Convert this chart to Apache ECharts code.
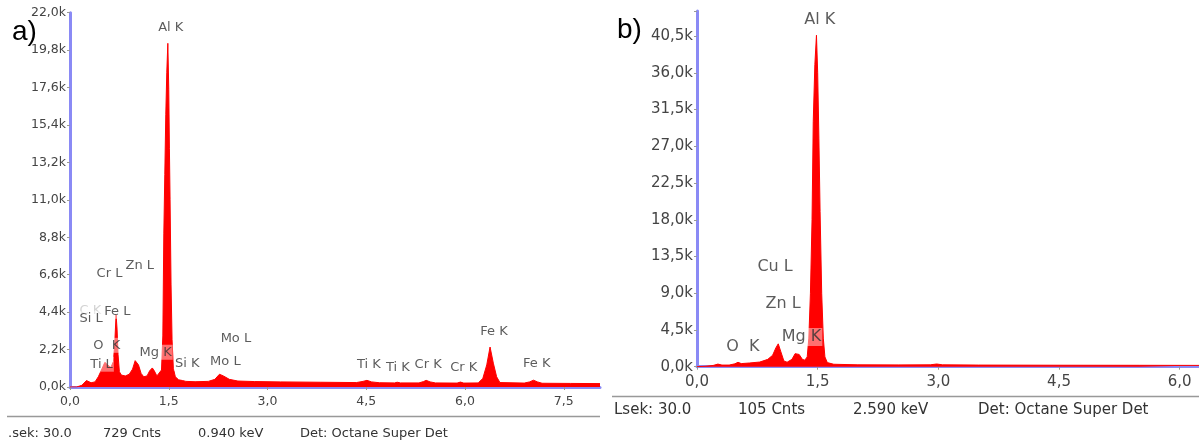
<!DOCTYPE html>
<html>
<head>
<meta charset="utf-8">
<script src="https://cdn.jsdelivr.net/npm/echarts@6/dist/echarts.min.js"></script>
<style>
  html, body { margin: 0; padding: 0; background: #fff; }
  #chart { width: 1199px; height: 445px; }
</style>
</head>
<body>
<div id="chart"></div>
<script>
// spectrum a) : energy (keV) and counts
var leftEnergy = [0, 0.1, 0.18, 0.25, 0.28, 0.32, 0.38, 0.43, 0.46, 0.5, 0.53, 0.57, 0.62, 0.66, 0.68, 0.7, 0.715, 0.73, 0.75, 0.78,
  0.84, 0.9, 0.95, 0.99, 1.01, 1.04, 1.08, 1.12, 1.17, 1.21, 1.25, 1.28, 1.32, 1.35,
  1.39, 1.41, 1.425, 1.44, 1.455, 1.47, 1.486, 1.5, 1.51, 1.52, 1.535, 1.55, 1.57, 1.6,
  1.65, 1.71, 1.76, 1.9, 2.1, 2.2, 2.27, 2.33, 2.42, 2.55, 2.8, 3.2, 3.8, 4.35, 4.45, 4.51, 4.58, 4.7,
  4.93, 4.97, 5.02, 5.3, 5.37, 5.41, 5.47, 5.55, 5.88, 5.93, 5.98, 6.2, 6.27, 6.33, 6.38, 6.43, 6.48, 6.53,
  6.9, 6.98, 7.04, 7.1, 7.17, 7.6, 8.05];
var leftCounts = [0, 0, 100, 380, 450, 250, 300, 600, 850, 1200, 1450, 1300, 1150, 1500, 2600, 4250, 3400, 1900, 900, 700,
  650, 750, 1050, 1550, 1630, 1300, 800, 600, 650, 950, 1120, 950, 650, 600,
  1000, 3000, 9000, 12500, 16000, 18500, 20200, 17500, 14000, 11000, 6000, 2800, 1100, 600,
  420, 380, 330, 310, 330, 450, 750, 650, 450, 350, 320, 300, 280, 260, 330, 390, 300, 250,
  240, 280, 240, 240, 320, 390, 300, 240, 230, 290, 230, 240, 500, 1300, 2350, 1400, 600, 260,
  230, 300, 400, 300, 220, 210, 200];

// spectrum b)
var rightEnergy = [0, 0.1, 0.2, 0.26, 0.31, 0.4, 0.47, 0.51, 0.55, 0.65, 0.78, 0.88, 0.94, 0.98, 1.01, 1.04, 1.08, 1.12,
  1.18, 1.22, 1.24, 1.27, 1.31, 1.34, 1.37, 1.39, 1.41, 1.43, 1.445, 1.465, 1.485, 1.5, 1.515, 1.53, 1.55, 1.57,
  1.59, 1.62, 1.7, 2.0, 2.5, 2.9, 2.98, 3.05, 3.5, 4.5, 5.5, 6.24];
var rightCounts = [0, 50, 150, 320, 200, 200, 350, 540, 380, 450, 570, 900, 1400, 2300, 2800, 1900, 700, 550,
  900, 1600, 1840, 1500, 900, 800, 1200, 3500, 9000, 18000, 30000, 37000, 40600, 36000, 28000, 19000, 9000, 3500,
  1200, 500, 300, 230, 220, 230, 330, 230, 200, 180, 170, 160];

// peak annotations
var leftPeakNames = ['Al K', 'Zn L', 'Cr L', 'C K', 'Si L', 'Fe L', 'O  K', 'Ti L', 'Mg K', 'Si K', 'Mo L', 'Mo L',
  'Ti K', 'Ti K', 'Cr K', 'Cr K', 'Fe K', 'Fe K'];
var leftPeakEnergy = [1.53, 1.06, 0.6, 0.31, 0.32, 0.72, 0.56, 0.48, 1.3, 1.78, 2.52, 2.36,
  4.54, 4.98, 5.44, 5.98, 6.44, 7.09];
var leftPeakCounts = [21100, 7160, 6680, 4500, 4040, 4450, 2450, 1340, 2040, 1400, 2860, 1510,
  1340, 1160, 1340, 1160, 3280, 1390];

var rightPeakNames = ['Al K', 'Cu L', 'Zn L', 'O  K', 'Mg K'];
var rightPeakEnergy = [1.525, 0.97, 1.07, 0.57, 1.3];
var rightPeakCounts = [42500, 12200, 7700, 2410, 3640];

var leftXTicks = 1.5, leftYTicks = 2200;
var rightXTicks = 1.5, rightYTicks = 4500;

var chart = echarts.init(document.getElementById('chart'));

function pairs(xs, ys) {
  return xs.map(function (x, i) { return [x, ys[i]]; });
}
function peakData(names, xs, ys) {
  return names.map(function (n, i) {
    var item = { name: n, value: [xs[i], ys[i]] };
    if (n === 'C K') item.label = { color: '#c8c8c8', backgroundColor: 'transparent' };
    return item;
  });
}
function kFmt(v) {
  return (v / 1000).toFixed(1).replace('.', ',') + 'k';
}
function eFmt(v) {
  return v.toFixed(1).replace('.', ',');
}

var axisBlue = '#8a8af5';
var font = 'DejaVu Sans';

function xAxisOf(idx, max, interval, size) {
  return {
    type: 'value', gridIndex: idx, min: 0, max: max, interval: interval,
    axisLine: { onZero: false, lineStyle: { color: axisBlue, width: 3 } },
    axisTick: { length: 3, lineStyle: { color: '#999' } },
    splitLine: { show: false },
    axisLabel: { formatter: eFmt, color: '#444', fontSize: size, fontFamily: font, margin: 8, showMaxLabel: false }
  };
}
function yAxisOf(idx, max, interval, size) {
  return {
    type: 'value', gridIndex: idx, min: 0, max: max, interval: interval,
    axisLine: { show: true, lineStyle: { color: axisBlue, width: 3 } },
    axisTick: { show: true, length: 3, lineStyle: { color: '#999' } },
    splitLine: { show: false },
    axisLabel: {
      formatter: function (v) { return v % interval === 0 ? kFmt(v) : ''; },
      color: '#444', fontSize: size, fontFamily: font, margin: 4
    }
  };
}
function spectrum(idx, data) {
  return {
    type: 'line', xAxisIndex: idx, yAxisIndex: idx, data: data,
    showSymbol: false, symbol: 'none', z: 2,
    lineStyle: { color: '#ff0000', width: 1 },
    areaStyle: { color: '#ff0000', opacity: 1 }
  };
}
function peaks(idx, data, size) {
  return {
    type: 'scatter', xAxisIndex: idx, yAxisIndex: idx, data: data,
    symbolSize: 0, z: 5, clip: false, silent: true,
    label: {
      show: true, position: 'inside', formatter: '{b}',
      color: '#333', fontSize: size, fontFamily: font,
      backgroundColor: 'rgba(255,255,255,0.55)', padding: [1, 1]
    }
  };
}

var option = {
  animation: false,
  backgroundColor: '#fff',
  grid: [
    { left: 70, right: 599, top: 12.7, bottom: 58 },
    { left: 697, right: 0, top: 11, bottom: 78.3 }
  ],
  xAxis: [
    xAxisOf(0, 8.05, leftXTicks, 12.5),
    xAxisOf(1, 6.24, rightXTicks, 15)
  ],
  yAxis: [
    yAxisOf(0, 22000, leftYTicks, 12.5),
    yAxisOf(1, 43570, rightYTicks, 15)
  ],
  series: [
    spectrum(0, pairs(leftEnergy, leftCounts)),
    peaks(0, peakData(leftPeakNames, leftPeakEnergy, leftPeakCounts), 13),
    spectrum(1, pairs(rightEnergy, rightCounts)),
    peaks(1, peakData(rightPeakNames, rightPeakEnergy, rightPeakCounts), 16)
  ],
  graphic: [
    { type: 'text', left: 12, top: 18, style: { text: 'a)', font: '28px "Liberation Sans"', fill: '#000' } },
    { type: 'text', left: 617, top: 16, style: { text: 'b)', font: '28px "Liberation Sans"', fill: '#000' } },
    // status bars
    { type: 'line', shape: { x1: 7, y1: 416.5, x2: 600, y2: 416.5 }, style: { stroke: '#999', lineWidth: 1.5 } },
    { type: 'text', left: 8, top: 427, style: { text: '.sek: 30.0', font: '13px "DejaVu Sans"', fill: '#333' } },
    { type: 'text', left: 103, top: 427, style: { text: '729 Cnts', font: '13px "DejaVu Sans"', fill: '#333' } },
    { type: 'text', left: 198, top: 427, style: { text: '0.940 keV', font: '13px "DejaVu Sans"', fill: '#333' } },
    { type: 'text', left: 300, top: 427, style: { text: 'Det: Octane Super Det', font: '13px "DejaVu Sans"', fill: '#333' } },
    { type: 'line', shape: { x1: 612, y1: 396.5, x2: 1199, y2: 396.5 }, style: { stroke: '#999', lineWidth: 1.5 } },
    { type: 'text', left: 614, top: 403, style: { text: 'Lsek: 30.0', font: '15px "DejaVu Sans"', fill: '#333' } },
    { type: 'text', left: 738, top: 403, style: { text: '105 Cnts', font: '15px "DejaVu Sans"', fill: '#333' } },
    { type: 'text', left: 853, top: 403, style: { text: '2.590 keV', font: '15px "DejaVu Sans"', fill: '#333' } },
    { type: 'text', left: 978, top: 403, style: { text: 'Det: Octane Super Det', font: '15px "DejaVu Sans"', fill: '#333' } }
  ]
};

chart.setOption(option);
</script>
</body>
</html>
